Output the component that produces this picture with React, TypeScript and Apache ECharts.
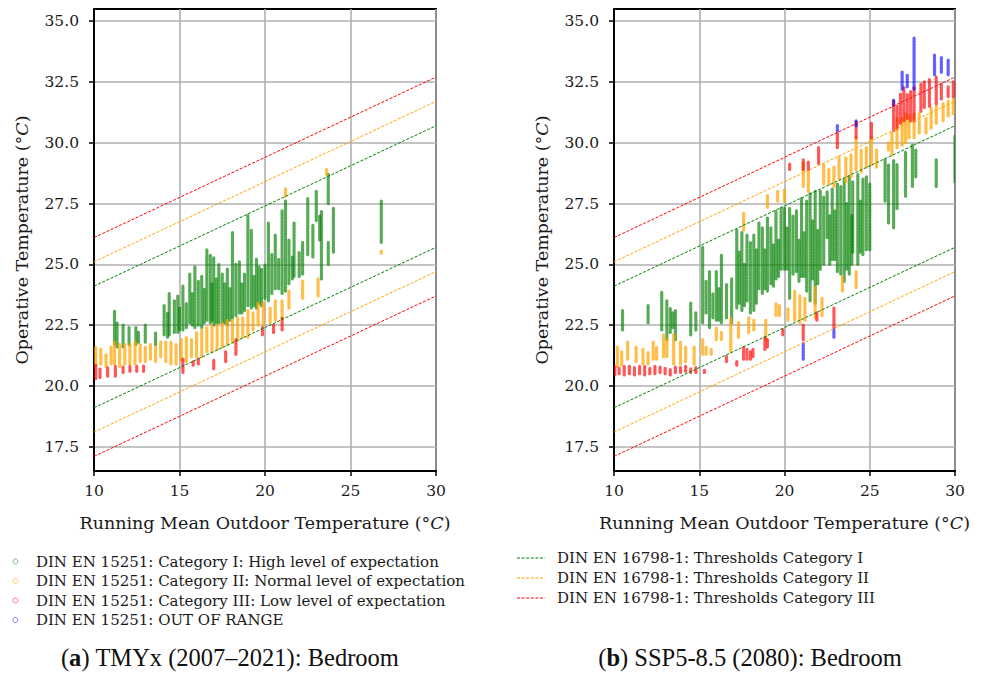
import React, { useEffect, useRef } from "react";
import * as echarts from "echarts";

// ---------- data ----------
// Each stripe: [running mean outdoor temp, operative temp low, operative temp high]
type Stripe = [number, number, number];

const xTicks = [10, 15, 20, 25, 30];
const yTicks = [17.5, 20.0, 22.5, 25.0, 27.5, 30.0, 32.5, 35.0];

const categoryNames = [
  "DIN EN 15251: Category I: High level of expectation",
  "DIN EN 15251: Category II: Normal level of expectation",
  "DIN EN 15251: Category III: Low level of expectation",
  "DIN EN 15251: OUT OF RANGE",
];
const thresholdNames = [
  "DIN EN 16798-1: Thresholds Category I",
  "DIN EN 16798-1: Thresholds Category II",
  "DIN EN 16798-1: Thresholds Category III",
];
const captions = ["TMYx (2007–2021): Bedroom", "SSP5-8.5 (2080): Bedroom"];

// threshold lines (endpoints at x = 10 and x = 30)
const thresholdX = [10, 30];
const upperCatI = [24.1, 30.7];
const lowerCatI = [19.1, 25.7];
const upperCatII = [25.1, 31.7];
const lowerCatII = [18.1, 24.7];
const upperCatIII = [26.1, 32.7];
const lowerCatIII = [17.1, 23.7];

// Panel (a) TMYx (2007–2021)
const tmyxCatI: Stripe[] = [
  [11.2, 21.7, 23.1], [11.35, 21.6, 22.6], [11.7, 21.6, 22.5], [12.05, 21.7, 22.4],
  [12.45, 21.7, 22.4], [12.6, 21.8, 22.2], [13.0, 21.8, 22.5], [13.6, 21.7, 22.2],
  [14.1, 22.1, 23.3], [14.3, 22.0, 23.0], [14.4, 22.1, 23.8], [14.7, 22.2, 23.5],
  [14.9, 22.2, 23.7], [15.0, 22.3, 23.2], [15.2, 22.3, 24.1], [15.4, 22.4, 23.4],
  [15.6, 22.6, 24.6], [15.75, 22.5, 23.8], [15.9, 22.4, 24.9], [16.1, 22.5, 24.3],
  [16.3, 22.4, 24.5], [16.45, 22.6, 24.0], [16.6, 22.7, 25.6], [16.8, 22.6, 25.4],
  [16.9, 22.7, 24.2], [17.0, 22.5, 25.3], [17.15, 22.6, 24.4], [17.3, 22.6, 25.0],
  [17.5, 22.6, 24.6], [17.65, 22.6, 24.2], [17.8, 22.5, 24.8], [17.95, 22.7, 24.0],
  [18.1, 22.8, 26.3], [18.3, 22.9, 25.0], [18.5, 23.0, 25.1], [18.65, 23.0, 24.2],
  [18.8, 23.1, 24.6], [19.0, 23.3, 27.0], [19.2, 23.2, 26.4], [19.35, 23.3, 24.5],
  [19.5, 23.2, 25.2], [19.65, 23.4, 24.9], [19.8, 23.3, 24.8], [20.0, 23.6, 25.0],
  [20.2, 23.5, 26.7], [20.4, 23.8, 25.4], [20.6, 24.0, 26.2], [20.8, 24.0, 25.2],
  [21.0, 23.8, 27.2], [21.2, 23.9, 27.6], [21.4, 24.2, 26.0], [21.6, 24.4, 25.3],
  [21.7, 24.5, 26.7], [22.0, 24.5, 25.5], [22.2, 24.6, 25.9], [22.5, 25.4, 27.7],
  [22.8, 25.3, 26.6], [23.0, 26.8, 28.0], [23.2, 26.0, 27.0], [23.3, 24.4, 27.2],
  [23.7, 27.5, 28.7], [23.7, 25.0, 25.9], [24.0, 25.5, 27.3], [26.8, 25.9, 27.6],
];
const tmyxCatII: Stripe[] = [
  [10.1, 20.85, 21.6], [10.4, 20.9, 21.5], [10.7, 20.8, 21.3], [11.0, 20.9, 21.6],
  [11.2, 20.9, 21.8], [11.5, 20.8, 21.7], [11.8, 20.9, 21.7], [12.1, 20.9, 21.7],
  [12.4, 20.9, 21.8], [12.7, 21.0, 21.7], [13.0, 21.0, 21.6], [13.3, 21.1, 21.7],
  [13.6, 21.0, 21.6], [13.9, 21.2, 21.8], [14.2, 21.0, 21.8], [14.5, 20.9, 21.8],
  [14.8, 20.9, 21.7], [15.1, 21.05, 21.9], [15.4, 21.0, 22.0], [15.7, 21.2, 21.9],
  [16.0, 21.2, 22.2], [16.3, 21.2, 22.3], [16.6, 21.4, 22.4], [16.9, 21.4, 22.5],
  [17.2, 21.5, 22.5], [17.5, 21.6, 22.6], [17.8, 21.7, 22.7], [18.1, 21.8, 22.7],
  [18.4, 21.9, 22.8], [18.7, 22.0, 22.8], [19.0, 22.0, 23.1], [19.3, 22.3, 23.0],
  [19.6, 22.5, 23.4], [19.9, 22.5, 23.4], [20.3, 22.6, 23.2], [20.6, 22.7, 23.5],
  [21.0, 22.8, 23.5], [21.2, 27.8, 28.1], [21.4, 23.2, 23.9], [22.2, 23.6, 24.3],
  [23.1, 23.7, 24.4], [23.6, 28.7, 28.9], [26.8, 25.45, 25.55],
];
const tmyxCatIII: Stripe[] = [
  [10.1, 20.3, 20.85], [10.35, 20.35, 20.7], [10.8, 20.4, 20.75], [11.25, 20.4, 20.8],
  [11.7, 20.55, 20.8], [12.1, 20.6, 20.8], [12.5, 20.6, 20.8], [12.9, 20.6, 20.85],
  [15.2, 20.55, 21.1], [15.8, 20.85, 21.0], [16.1, 20.9, 21.1], [17.0, 20.7, 21.05],
  [17.7, 21.0, 21.4], [18.3, 21.3, 21.9], [19.85, 22.1, 22.4], [20.5, 22.2, 22.5],
  [21.0, 22.3, 22.8],
];
const tmyxOut: Stripe[] = [];

// Panel (b) SSP5-8.5 (2080)
const sspCatI: Stripe[] = [
  [10.5, 22.3, 23.1], [12.0, 22.6, 23.3], [12.8, 22.3, 23.85], [13.1, 21.9, 23.5],
  [13.3, 22.2, 23.2], [13.45, 22.4, 23.0], [13.6, 21.9, 23.1], [14.5, 22.1, 23.4],
  [14.8, 22.3, 23.0], [15.2, 22.6, 25.7], [15.4, 23.0, 24.3], [15.6, 22.4, 24.7],
  [15.8, 22.8, 23.8], [16.0, 22.7, 24.7], [16.15, 22.7, 24.0], [16.3, 22.6, 25.4],
  [16.6, 22.8, 24.2], [16.9, 22.6, 24.4], [17.2, 23.2, 26.4], [17.35, 23.4, 25.5],
  [17.5, 23.1, 26.3], [17.65, 23.3, 25.0], [17.8, 23.5, 26.2], [18.0, 23.0, 25.9],
  [18.2, 23.1, 26.2], [18.35, 23.4, 25.6], [18.5, 24.0, 26.7], [18.7, 23.8, 26.5],
  [18.85, 24.0, 25.6], [19.0, 23.9, 26.9], [19.2, 24.2, 26.5], [19.35, 24.1, 25.8],
  [19.5, 24.4, 27.2], [19.65, 24.5, 26.0], [19.8, 24.8, 27.3], [20.0, 24.8, 27.3],
  [20.15, 24.8, 26.5], [20.3, 23.6, 27.3], [20.5, 24.6, 27.0], [20.7, 24.7, 27.2],
  [20.85, 24.3, 26.0], [21.0, 24.5, 27.7], [21.15, 24.5, 26.3], [21.3, 23.9, 27.6],
  [21.5, 23.5, 27.9], [21.65, 24.4, 26.8], [21.8, 23.4, 28.0], [21.95, 24.2, 26.4],
  [22.1, 24.8, 28.0], [22.3, 25.0, 27.8], [22.5, 26.1, 28.0], [22.65, 25.0, 27.0],
  [22.8, 25.2, 28.1], [22.95, 25.2, 27.2], [23.1, 24.7, 28.3], [23.3, 24.6, 28.2],
  [23.5, 24.3, 28.5], [23.65, 24.8, 27.5], [23.8, 24.6, 28.6], [23.95, 25.0, 27.0],
  [24.0, 25.5, 28.4], [24.3, 25.0, 28.7], [24.45, 25.5, 27.6], [24.6, 25.4, 28.5],
  [24.8, 25.6, 28.6], [25.0, 25.6, 28.3], [25.9, 27.6, 29.3], [26.1, 26.7, 29.1],
  [26.4, 26.5, 29.3], [26.6, 27.3, 29.1], [27.1, 27.8, 29.6], [27.5, 28.2, 29.9],
  [27.7, 28.6, 29.7], [28.9, 28.2, 29.3], [30.0, 28.4, 30.3],
];
const sspCatII: Stripe[] = [
  [10.2, 20.8, 21.6], [10.45, 20.85, 21.4], [10.8, 21.1, 21.8], [11.3, 21.0, 21.6],
  [11.7, 20.9, 21.5], [12.0, 20.9, 21.4], [12.3, 21.1, 21.8], [12.5, 21.1, 21.6],
  [12.9, 21.2, 22.1], [13.1, 21.2, 21.9], [13.5, 20.9, 22.1], [13.9, 20.9, 21.8],
  [14.2, 21.0, 21.6], [14.7, 20.9, 21.6], [15.2, 21.3, 21.9], [15.4, 21.3, 21.6],
  [15.7, 21.3, 21.5], [16.0, 21.9, 22.4], [16.3, 21.9, 22.2], [16.85, 21.4, 22.8],
  [17.3, 22.0, 22.6], [17.9, 22.2, 22.8], [18.2, 22.3, 22.7], [18.9, 21.9, 22.7],
  [19.5, 22.9, 23.4], [19.7, 22.9, 23.3], [20.2, 22.7, 23.2], [20.6, 22.7, 23.9],
  [20.9, 22.6, 23.7], [21.2, 22.7, 23.6], [21.8, 22.8, 24.05], [22.2, 22.9, 23.6],
  [23.4, 23.9, 24.5], [24.2, 24.05, 24.7],
  [17.6, 26.4, 27.1], [19.0, 27.35, 27.85], [19.6, 27.6, 28.0], [20.0, 27.6, 28.05],
  [21.1, 28.2, 29.15], [21.4, 28.0, 28.8], [22.3, 28.3, 29.1], [22.6, 28.3, 28.9],
  [22.9, 28.2, 29.0], [23.2, 28.5, 29.4], [23.6, 28.4, 29.4], [23.9, 28.6, 29.5],
  [24.2, 28.9, 30.2], [24.5, 28.8, 29.7], [24.8, 29.0, 29.8], [25.1, 29.1, 30.2],
  [25.4, 29.0, 29.7], [26.1, 29.7, 30.0], [26.3, 29.5, 30.4], [26.6, 29.8, 31.0],
  [26.9, 29.9, 31.0], [27.1, 30.0, 31.2], [27.3, 30.2, 31.1], [27.6, 30.2, 31.2],
  [27.9, 30.4, 31.2], [28.3, 30.4, 31.0], [28.6, 30.6, 31.4], [28.9, 30.8, 31.5],
  [29.3, 30.9, 31.6], [29.6, 31.1, 31.7], [29.9, 31.2, 31.8],
];
const sspCatIII: Stripe[] = [
  [10.05, 20.45, 20.8], [10.3, 20.5, 20.75], [10.6, 20.45, 20.8], [10.9, 20.5, 20.8],
  [11.2, 20.45, 20.75], [11.5, 20.5, 20.8], [11.8, 20.45, 20.8], [12.1, 20.5, 20.75],
  [12.4, 20.5, 20.8], [12.7, 20.55, 20.8], [13.0, 20.5, 20.75], [13.3, 20.45, 20.7],
  [13.6, 20.55, 20.8], [13.9, 20.55, 20.75], [14.2, 20.6, 20.8], [14.5, 20.55, 20.7],
  [14.8, 20.55, 20.75], [15.3, 20.55, 20.65], [16.6, 21.0, 21.2], [17.2, 20.85, 21.0],
  [17.6, 21.1, 21.6], [17.8, 21.1, 21.5], [18.0, 21.1, 21.4], [18.15, 21.2, 21.5],
  [18.85, 21.5, 22.0], [19.0, 21.6, 21.9], [19.9, 22.1, 22.3], [21.1, 21.9, 22.5],
  [21.9, 22.7, 23.0], [22.9, 22.4, 23.2],
  [20.3, 28.9, 29.15], [21.1, 28.9, 29.3], [21.4, 28.9, 29.2], [22.0, 29.15, 29.8],
  [23.1, 29.8, 30.4], [24.2, 30.2, 30.85], [25.1, 30.2, 30.8], [26.4, 30.5, 31.7],
  [26.6, 30.6, 31.5], [26.8, 30.8, 32.0], [27.0, 30.9, 32.3], [27.2, 31.0, 32.0],
  [27.4, 30.9, 32.1], [27.6, 30.9, 32.3], [28.0, 31.3, 32.4], [28.2, 31.45, 32.5],
  [28.5, 31.5, 32.6], [28.9, 31.6, 32.7], [29.2, 31.8, 32.4], [29.6, 31.9, 32.3],
  [29.9, 31.9, 32.5],
];
const sspOut: Stripe[] = [
  [21.1, 21.1, 21.75], [22.9, 22.0, 22.3], [23.1, 30.5, 30.7], [24.2, 30.7, 30.9],
  [26.4, 31.55, 31.75], [26.9, 32.2, 32.9], [27.2, 32.3, 32.8], [27.6, 32.2, 34.3],
  [28.8, 32.8, 33.6], [29.2, 32.9, 33.5], [29.6, 32.8, 33.4],
];

// ---------- styling ----------
const GREEN = "#008000";
const ORANGE = "#FFA500";
const RED = "#FF0000";
const BLUE = "#0000FF";
const catColors = [GREEN, ORANGE, RED, BLUE];
const catStroke = [
  "rgba(0,128,0,0.66)",
  "rgba(255,165,0,0.72)",
  "rgba(255,0,0,0.66)",
  "rgba(0,0,255,0.62)",
];
const SERIF = "DejaVu Serif";
const TEXT = "#1a1a1a";

const grids = [
  { left: 94, top: 9, width: 342, height: 462 },
  { left: 614, top: 9, width: 341, height: 462 },
];

function stripeRender(color: string) {
  return (_params: any, api: any) => {
    const x = api.value(0);
    const a = api.coord([x, api.value(1)]);
    const b = api.coord([x, api.value(2)]);
    return {
      type: "line",
      shape: { x1: a[0], y1: a[1], x2: b[0], y2: b[1] },
      style: { stroke: color, lineWidth: 3.2, lineCap: "round", lineDash: [2.2, 0.9], fill: null },
    };
  };
}

function buildOption() {
  const panels = [
    [tmyxCatI, tmyxCatII, tmyxCatIII, tmyxOut],
    [sspCatI, sspCatII, sspCatIII, sspOut],
  ];
  const thresholds = [
    { name: thresholdNames[0], color: GREEN, ys: [upperCatI, lowerCatI] },
    { name: thresholdNames[1], color: ORANGE, ys: [upperCatII, lowerCatII] },
    { name: thresholdNames[2], color: RED, ys: [upperCatIII, lowerCatIII] },
  ];
  const series: any[] = [];
  panels.forEach((cats, gi) => {
    cats.forEach((data, ci) => {
      series.push({
        type: "custom",
        name: categoryNames[ci],
        xAxisIndex: gi,
        yAxisIndex: gi,
        data,
        encode: { x: 0, y: [1, 2] },
        renderItem: stripeRender(catStroke[ci]),
        itemStyle: { color: catColors[ci] },
        clip: true,
        z: 3,
      });
    });
    thresholds.forEach((t) => {
      t.ys.forEach((ys) => {
        series.push({
          type: "line",
          name: t.name,
          xAxisIndex: gi,
          yAxisIndex: gi,
          data: thresholdX.map((x, i) => [x, ys[i]]),
          symbol: "none",
          lineStyle: { color: t.color, width: 1, type: [3, 1.6] },
          itemStyle: { color: t.color },
          z: 4,
        });
      });
    });
  });

  const axisLineStyle = { color: "#000", width: 2 };
  const nameStyle = {
    fontFamily: SERIF,
    fontSize: 17.5,
    color: TEXT,
    rich: { i: { fontFamily: SERIF, fontStyle: "italic", fontSize: 17.5, color: TEXT } },
  };
  const xAxis = grids.map((_, gi) => ({
    type: "value",
    gridIndex: gi,
    min: 10,
    max: 30,
    interval: 5,
    name: "Running Mean Outdoor Temperature (°{i|C})",
    nameLocation: "middle",
    nameGap: 43,
    nameTextStyle: nameStyle,
    axisLine: { show: true, lineStyle: axisLineStyle },
    axisTick: { show: true, length: 5, lineStyle: { color: "#000", width: 1.5 } },
    axisLabel: {
      fontFamily: SERIF,
      fontSize: 15.5,
      color: TEXT,
      margin: 12,
      showMinLabel: true,
      showMaxLabel: true,
      customValues: xTicks,
    },
    splitLine: { show: true, lineStyle: { color: "#b0b0b0", width: 1.6 } },
  }));
  const yAxis = grids.map((_, gi) => ({
    type: "value",
    gridIndex: gi,
    min: 16.5,
    max: 35.5,
    name: "Operative Temperature (°{i|C})",
    nameLocation: "middle",
    nameGap: 63,
    nameRotate: 90,
    nameTextStyle: nameStyle,
    axisLine: { show: true, lineStyle: axisLineStyle },
    axisTick: { show: true, length: 5, lineStyle: { color: "#000", width: 1.5 }, customValues: yTicks },
    axisLabel: {
      fontFamily: SERIF,
      fontSize: 15.5,
      color: TEXT,
      margin: 15,
      customValues: yTicks,
      formatter: (v: number) => v.toFixed(1),
    },
    splitLine: { show: true, lineStyle: { color: "#b0b0b0", width: 1.6 } },
  }));

  // threshold legend drawn as graphic (dashed line + label)
  const thresholdColors = [GREEN, ORANGE, RED];
  const thrLegend: any[] = [];
  thresholdNames.forEach((n, i) => {
    const y = 558 + i * 20;
    thrLegend.push({
      type: "line",
      shape: { x1: 517, y1: y, x2: 545, y2: y },
      style: { stroke: thresholdColors[i], lineWidth: 1, lineDash: [3, 1.6] },
    });
    thrLegend.push({
      type: "text",
      x: 557,
      y,
      style: {
        text: n,
        fontFamily: SERIF,
        fontSize: 15,
        fill: TEXT,
        verticalAlign: "middle",
        align: "left",
      },
    });
  });

  return {
    animation: false,
    backgroundColor: "#fff",
    grid: grids.map((g) => ({
      ...g,
      show: true,
      borderColor: "#000",
      borderWidth: 2,
      backgroundColor: "transparent",
      containLabel: false,
    })),
    xAxis,
    yAxis,
    legend: [
      {
        orient: "vertical",
        left: 7.5,
        top: 549,
        itemWidth: 5,
        itemHeight: 5,
        itemGap: 4.5,
        icon: "circle",
        selectedMode: false,
        data: categoryNames.map((n, i) => ({
          name: n,
          itemStyle: { color: "transparent", borderColor: catStroke[i], borderWidth: 0.8 },
        })),
        textStyle: {
          fontFamily: SERIF,
          fontSize: 15,
          color: TEXT,
          lineHeight: 14.5,
          padding: [0, 0, 0, 13],
        },
      },
    ],
    graphic: [
      ...thrLegend,
      {
        type: "text",
        x: 230,
        y: 657,
        style: {
          text: "({b|a}) " + captions[0],
          fontFamily: "Liberation Serif",
          fontSize: 24.5,
          fill: "#111",
          align: "center",
          verticalAlign: "middle",
          rich: { b: { fontFamily: "Liberation Serif", fontWeight: "bold", fontSize: 24.5, fill: "#111" } },
        },
      },
      {
        type: "text",
        x: 750,
        y: 657,
        style: {
          text: "({b|b}) " + captions[1],
          fontFamily: "Liberation Serif",
          fontSize: 24.5,
          fill: "#111",
          align: "center",
          verticalAlign: "middle",
          rich: { b: { fontFamily: "Liberation Serif", fontWeight: "bold", fontSize: 24.5, fill: "#111" } },
        },
      },
    ],
    series,
  };
}

export default function App() {
  const ref = useRef<HTMLDivElement>(null);
  useEffect(() => {
    if (!ref.current) return;
    const chart = echarts.init(ref.current, undefined, { renderer: "svg" });
    chart.setOption(buildOption() as any);
    return () => chart.dispose();
  }, []);
  return (
    <div
      ref={ref}
      style={{ position: "absolute", left: 0, top: 0, width: 985, height: 675, background: "#fff" }}
    />
  );
}
